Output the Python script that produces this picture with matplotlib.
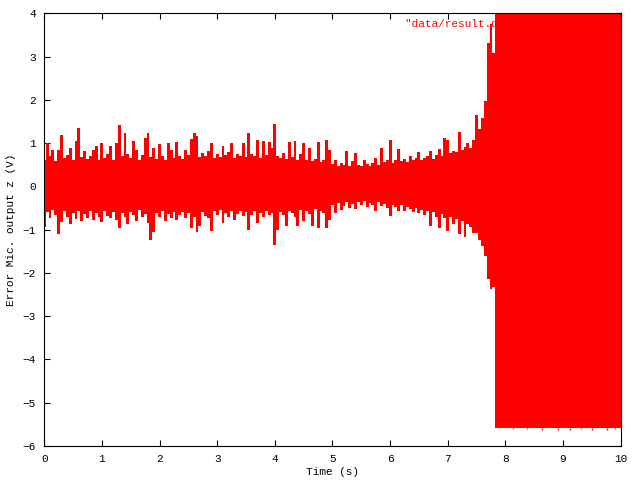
import numpy as np
import matplotlib
matplotlib.use('Agg')
from matplotlib import pyplot as plt

# envelope of the error signal, one hi/lo pair every 0.05 s
dt = 0.05
hi = [0.62, 1.00, 0.70, 0.83, 0.58, 0.85, 1.18, 0.66, 0.72, 0.89,
      0.60, 1.04, 1.34, 0.68, 0.82, 0.64, 0.70, 0.85, 0.93, 0.62,
      1.00, 0.66, 0.74, 0.93, 0.61, 1.00, 1.41, 0.70, 1.24, 0.75,
      0.65, 1.04, 0.85, 0.60, 0.72, 1.12, 1.24, 0.68, 0.89, 0.64,
      0.97, 0.70, 0.62, 1.00, 0.85, 0.66, 1.02, 0.71, 0.63, 0.85,
      0.72, 1.09, 1.24, 1.17, 0.68, 0.78, 0.70, 0.82, 1.00, 0.66,
      0.74, 0.69, 0.93, 0.72, 0.80, 1.00, 0.66, 0.75, 0.70, 1.00,
      0.68, 1.24, 0.75, 0.70, 1.08, 0.66, 1.04, 0.72, 1.02, 0.89,
      1.45, 0.70, 0.66, 0.78, 0.64, 1.02, 0.69, 1.04, 0.62, 0.74,
      1.00, 0.60, 0.89, 0.58, 0.64, 1.02, 0.56, 0.62, 1.08, 0.85,
      0.52, 0.62, 0.48, 0.55, 0.50, 0.81, 0.47, 0.58, 0.77, 0.50,
      0.46, 0.62, 0.52, 0.48, 0.55, 0.66, 0.50, 0.89, 0.56, 0.60,
      1.07, 0.55, 0.62, 0.87, 0.58, 0.64, 0.56, 0.71, 0.60, 0.66,
      0.79, 0.62, 0.66, 0.70, 0.81, 0.64, 0.72, 0.87, 0.70, 1.12,
      1.08, 0.76, 0.82, 0.80, 1.25, 0.84, 0.90, 1.00, 0.88, 1.08,
      1.64, 1.32, 1.58, 1.97, 3.32, 3.75, 3.09, 5.60]
lo = [-0.94, -0.60, -0.72, -0.55, -0.66, -1.11, -0.82, -0.58, -0.70, -0.88,
      -0.62, -0.75, -0.56, -0.80, -0.64, -0.72, -0.58, -0.78, -0.61, -0.70,
      -0.82, -0.57, -0.68, -0.74, -0.60, -0.77, -0.96, -0.62, -0.71, -0.88,
      -0.59, -0.66, -0.79, -0.55, -0.70, -0.64, -0.84, -1.23, -1.05, -0.62,
      -0.70, -0.58, -0.80, -0.63, -0.72, -0.60, -0.77, -0.66, -0.59, -0.74,
      -0.62, -0.96, -0.70, -1.05, -0.92, -0.60, -0.68, -0.74, -1.04, -0.58,
      -0.66, -0.55, -0.85, -0.62, -0.70, -0.58, -0.77, -0.64, -0.57, -0.68,
      -0.60, -1.00, -0.65, -0.56, -0.85, -0.62, -0.70, -0.58, -0.66, -0.61,
      -1.36, -1.00, -0.60, -0.66, -0.91, -0.57, -0.62, -0.70, -0.91, -0.55,
      -0.81, -0.58, -0.64, -0.91, -0.52, -0.96, -0.56, -0.62, -0.96, -0.77,
      -0.42, -0.61, -0.38, -0.54, -0.45, -0.36, -0.50, -0.40, -0.52, -0.37,
      -0.44, -0.34, -0.48, -0.38, -0.42, -0.58, -0.36, -0.46, -0.40, -0.50,
      -0.69, -0.42, -0.48, -0.56, -0.44, -0.58, -0.47, -0.52, -0.60, -0.49,
      -0.62, -0.54, -0.66, -0.58, -0.92, -0.60, -0.70, -0.96, -0.64, -0.72,
      -1.04, -0.70, -0.88, -0.76, -1.11, -0.80, -1.17, -0.86, -0.94, -1.08,
      -1.08, -1.23, -1.38, -1.62, -2.15, -2.37, -2.32, -5.58]

# saturated part (amplifier on the rails)
sat_t = [7.85, 10.0]
sat_hi = [5.60, 5.60]
sat_lo = [-5.58, -5.58]
dip_t = [8.14, 8.37, 8.63, 8.92, 9.12, 9.32, 9.50, 9.76, 9.90]
dip_v = [-5.61, -5.61, -5.62, -5.64, -5.62, -5.61, -5.62, -5.62, -5.61]

key_label = '"data/result.dat" using 1:2'

t = np.arange(len(hi)) * dt

plt.rcParams['font.family'] = 'Liberation Mono'
plt.rcParams['font.size'] = 8

fig = plt.figure(figsize=(6.4, 4.8), dpi=100)
ax = fig.add_axes([0.0692, 0.0708, 0.9006, 0.9015])

ax.text(6.26, 3.75, key_label, color='red', ha='left', va='center', zorder=1)
ax.fill_between(t, lo, hi, step='mid', color='red', lw=0, zorder=2)
ax.fill_between(sat_t, sat_lo, sat_hi, color='red', lw=0, zorder=2)
ax.vlines(dip_t, sat_lo[0], dip_v, color='red', lw=1.0, zorder=2)

ax.set_xlim(0, 10)
ax.set_ylim(-6, 4)
ax.set_xticks(range(0, 11))
ax.set_yticks(range(-6, 5))
ax.tick_params(direction='in', length=4, width=0.8, top=True, right=True,
               labelsize=8)
ax.tick_params(axis='x', pad=6)
ax.tick_params(axis='y', pad=6)
for s in ax.spines.values():
    s.set_linewidth(0.8)
    s.set_zorder(3)

ax.set_xlabel('Time (s)', labelpad=2)
ax.set_ylabel('Error Mic. output z (V)', labelpad=5)

fig.savefig('out.png', dpi=100)
